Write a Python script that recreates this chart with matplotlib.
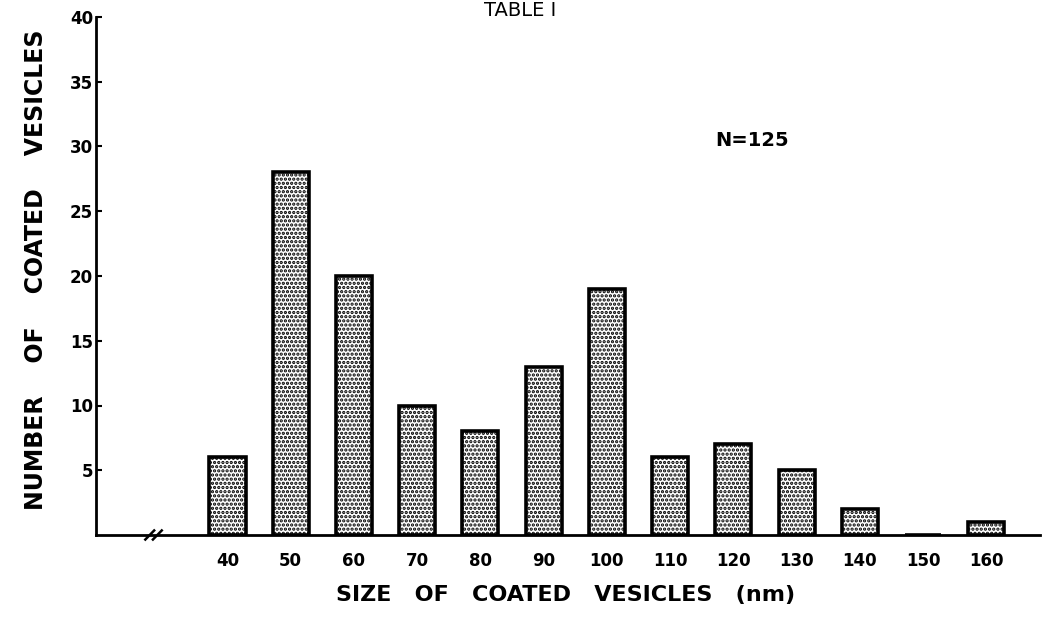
import matplotlib.pyplot as plt

# vesicle size histogram
sizes = [40, 50, 60, 70, 80, 90, 100, 110, 120, 130, 140, 150, 160]
counts = [6, 28, 20, 10, 8, 13, 19, 6, 7, 5, 2, 0, 1]
yticks = [5, 10, 15, 20, 25, 30, 35, 40]

plt.rcParams['font.family'] = ['DejaVu Sans']
plt.rcParams['font.weight'] = 'bold'
plt.rcParams['hatch.linewidth'] = 1.6

fig = plt.figure(figsize=(10.42, 6.28), dpi=100)
ax = fig.add_axes([96 / 1042, 1 - 535 / 628, (1040 - 96) / 1042, (535 - 17) / 628])

ax.bar(sizes, counts, width=5.7, facecolor='white', edgecolor='black',
       linewidth=2.6, hatch='....')

ax.set_xlim(19.2, 168.5)
ax.set_ylim(0, 40)
ax.set_xticks(sizes)
ax.set_xticklabels([str(s) for s in sizes], fontsize=12, fontweight='bold')
ax.set_yticks(yticks)
ax.set_yticklabels([str(t) for t in yticks], fontsize=12, fontweight='bold')
ax.tick_params(axis='x', length=0, pad=12)
ax.tick_params(axis='y', direction='in', length=4, width=1.5, pad=2)

for s in ['top', 'right']:
    ax.spines[s].set_visible(False)
ax.spines['left'].set_linewidth(2)
ax.spines['bottom'].set_linewidth(2)

# axis break marks
for dx in [-0.6, 0.6]:
    ax.plot([27.6 + dx, 29.0 + dx], [-0.35, 0.35], color='black', lw=1.8, clip_on=False)

ax.text(123, 30.5, 'N=125', fontsize=14, fontweight='bold', ha='center', va='center')

fig.text(566 / 1042, 1 - 595 / 628, 'SIZE   OF   COATED   VESICLES   (nm)',
         fontsize=16, fontweight='bold', ha='center', va='center')
fig.text(36 / 1042, 1 - 270 / 628, 'NUMBER    OF    COATED    VESICLES',
         fontsize=17, fontweight='bold', ha='center', va='center', rotation=90)
fig.text(520 / 1042, 1 - 1 / 628, 'TABLE I', fontsize=14, fontweight='normal',
         ha='center', va='top')

fig.savefig('out.png', dpi=100)
